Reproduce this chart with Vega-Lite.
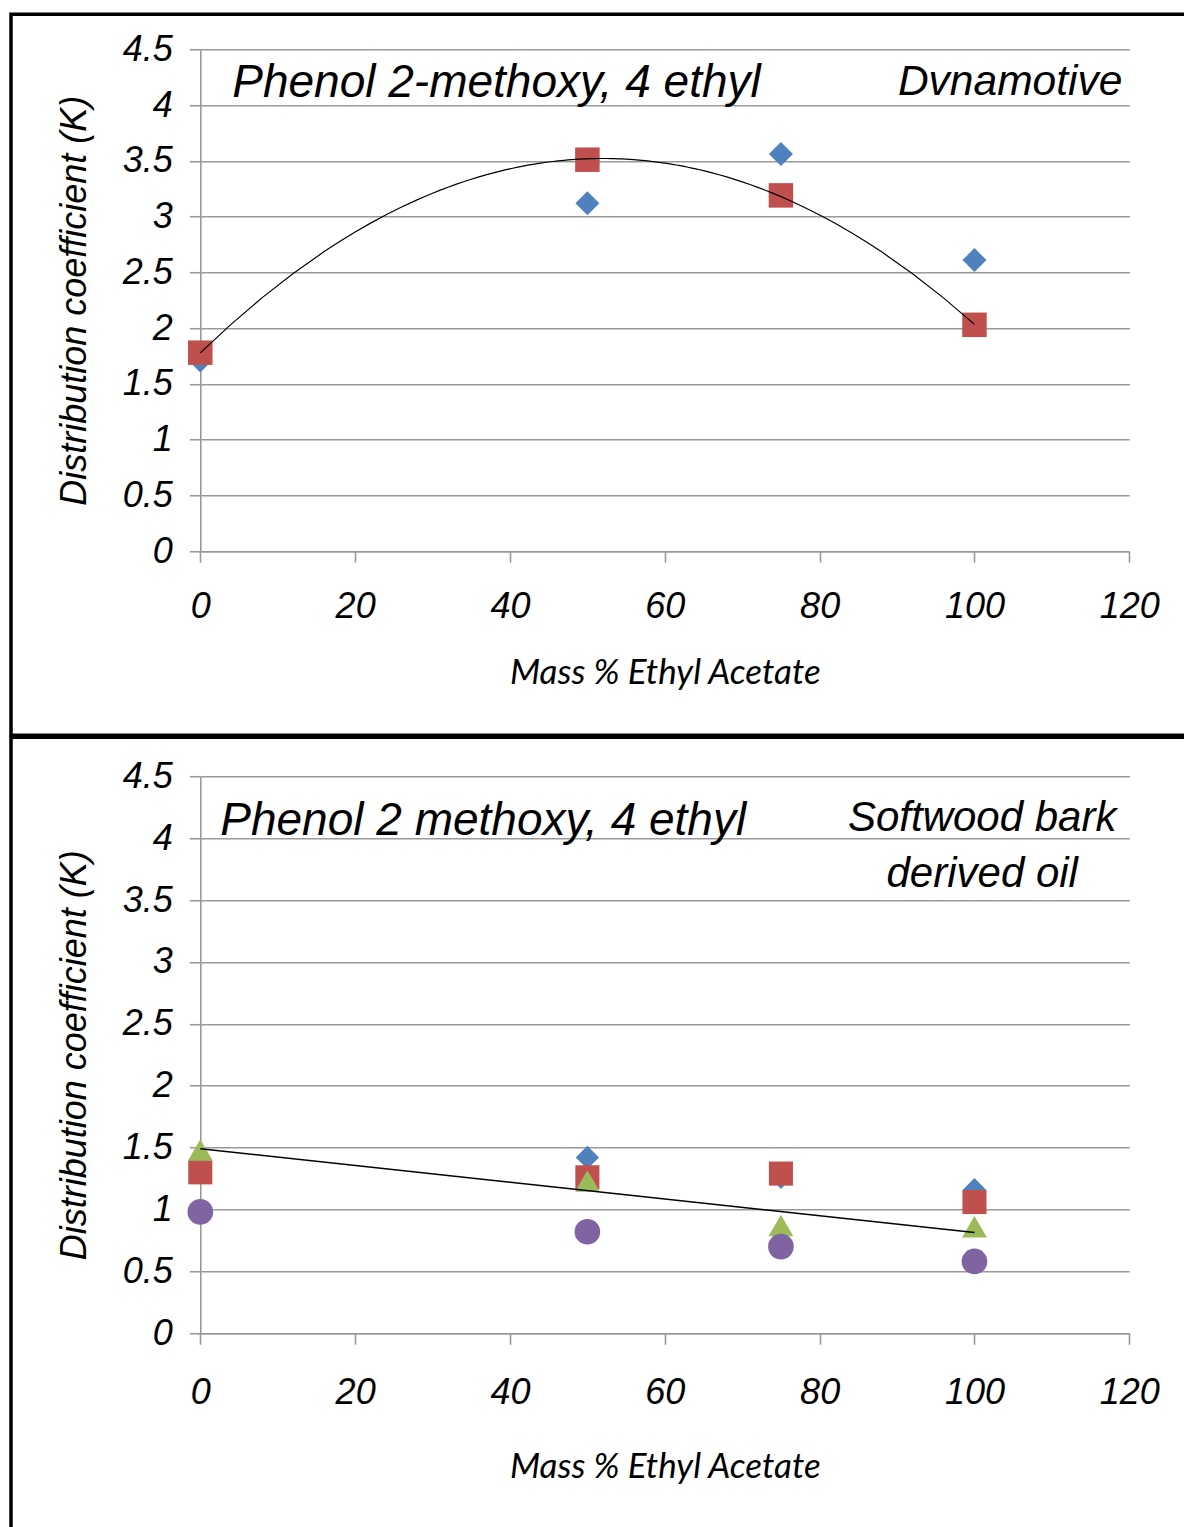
{
  "$schema": "https://vega.github.io/schema/vega-lite/v6.json",
  "background": "white",
  "padding": {"left": 9, "top": 12.25, "right": 0, "bottom": 0},
  "spacing": -3.5,
  "resolve": {"scale": {"color": "independent", "shape": "independent", "size": "independent"}},
  "config": {
    "view": {"stroke": "black", "strokeWidth": 3.5},
    "axis": {
      "labelFont": "Liberation Sans", "labelFontStyle": "italic", "labelFontSize": 36, "labelColor": "black",
      "labelFlush": false, "labelOverlap": false,
      "domainColor": "#999999", "domainWidth": 1.6, "tickColor": "#999999", "tickWidth": 1.6, "tickSize": 11,
      "gridColor": "#999999", "gridWidth": 1.6, "gridOpacity": 1,
      "titleColor": "black", "titleFontWeight": "normal", "titleFontStyle": "italic"
    }
  },
  "datasets": {
    "top": [
      {"series": "A", "x": 0, "k": 1.71},
      {"series": "A", "x": 50, "k": 3.12},
      {"series": "A", "x": 75, "k": 3.56},
      {"series": "A", "x": 100, "k": 2.61},
      {"series": "B", "x": 0, "k": 1.78},
      {"series": "B", "x": 50, "k": 3.51},
      {"series": "B", "x": 75, "k": 3.19},
      {"series": "B", "x": 100, "k": 2.03}
    ],
    "bottom": [
      {"series": "A", "x": 0, "k": 1.36},
      {"series": "A", "x": 50, "k": 1.42},
      {"series": "A", "x": 75, "k": 1.26},
      {"series": "A", "x": 100, "k": 1.16},
      {"series": "B", "x": 0, "k": 1.3},
      {"series": "B", "x": 50, "k": 1.26},
      {"series": "B", "x": 75, "k": 1.29},
      {"series": "B", "x": 100, "k": 1.06},
      {"series": "C", "x": 0, "k": 1.48},
      {"series": "C", "x": 50, "k": 1.23},
      {"series": "C", "x": 75, "k": 0.87},
      {"series": "C", "x": 100, "k": 0.86},
      {"series": "D", "x": 0, "k": 0.98},
      {"series": "D", "x": 50, "k": 0.82},
      {"series": "D", "x": 75, "k": 0.7},
      {"series": "D", "x": 100, "k": 0.58}
    ]
  },
  "vconcat": [
    {
      "width": 1180,
      "height": 721,
      "layer": [
        {
          "data": {"name": "top"},
          "mark": {"type": "point", "filled": true, "opacity": 1, "strokeWidth": 0},
          "encoding": {
            "x": {"field": "x", "type": "quantitative",
              "scale": {"domain": [0, 120], "range": [189.3, 1118.3], "nice": false, "zero": false},
              "axis": {"grid": false, "offset": -184, "values": [0, 20, 40, 60, 80, 100, 120], "labelPadding": 27,
                "title": "Mass % Ethyl Acetate", "titleFont": "Lato", "titleFontSize": 35, "titlePadding": 31}},
            "y": {"field": "k", "type": "quantitative",
              "scale": {"domain": [0, 4.5], "range": [537, 35], "nice": false, "zero": false},
              "axis": {"grid": true, "offset": -189.3, "values": [0, 0.5, 1, 1.5, 2, 2.5, 3, 3.5, 4, 4.5], "format": "~g", "labelPadding": 17,
                "title": "Distribution coefficient (K)", "titleFont": "Liberation Sans", "titleFontSize": 36, "titlePadding": 29}},
            "color": {"field": "series", "type": "nominal", "scale": {"domain": ["A", "B"], "range": ["#4F81BD", "#C0504D"]}, "legend": null},
            "shape": {"field": "series", "type": "nominal", "scale": {"domain": ["A", "B"], "range": ["diamond", "square"]}, "legend": null},
            "size": {"field": "series", "type": "ordinal", "scale": {"domain": ["A", "B"], "range": [576, 600]}, "legend": null}
          }
        },
        {
          "data": {"name": "top"},
          "transform": [
            {"filter": "datum.series == 'B'"},
            {"regression": "k", "on": "x", "method": "poly", "order": 2, "extent": [0, 100]}
          ],
          "mark": {"type": "line", "color": "black", "strokeWidth": 1.2},
          "encoding": {
            "x": {"field": "x", "type": "quantitative"},
            "y": {"field": "k", "type": "quantitative"}
          }
        },
        {
          "data": {"values": [{"label": "Phenol 2-methoxy, 4 ethyl", "x": 4.13, "k": 4.07}]},
          "mark": {"type": "text", "font": "Liberation Sans", "fontStyle": "italic", "fontSize": 46, "align": "left", "baseline": "alphabetic", "color": "black"},
          "encoding": {
            "x": {"field": "x", "type": "quantitative"},
            "y": {"field": "k", "type": "quantitative"},
            "text": {"field": "label"}
          }
        },
        {
          "data": {"values": [{"label": "Dvnamotive", "x": 119.1, "k": 4.087}]},
          "mark": {"type": "text", "font": "Liberation Sans", "fontStyle": "italic", "fontSize": 42.5, "align": "right", "baseline": "alphabetic", "color": "black"},
          "encoding": {
            "x": {"field": "x", "type": "quantitative"},
            "y": {"field": "k", "type": "quantitative"},
            "text": {"field": "label"}
          }
        }
      ]
    },
    {
      "width": 1180,
      "height": 800,
      "layer": [
        {
          "data": {"name": "bottom"},
          "mark": {"type": "point", "filled": true, "opacity": 1, "strokeWidth": 0},
          "encoding": {
            "x": {"field": "x", "type": "quantitative",
              "scale": {"domain": [0, 120], "range": [189.3, 1118.3], "nice": false, "zero": false},
              "axis": {"grid": false, "offset": -204, "values": [0, 20, 40, 60, 80, 100, 120], "labelPadding": 31,
                "title": "Mass % Ethyl Acetate", "titleFont": "Lato", "titleFontSize": 35, "titlePadding": 39}},
            "y": {"field": "k", "type": "quantitative",
              "scale": {"domain": [0, 4.5], "range": [596, 39], "nice": false, "zero": false},
              "axis": {"grid": true, "offset": -189.3, "values": [0, 0.5, 1, 1.5, 2, 2.5, 3, 3.5, 4, 4.5], "format": "~g", "labelPadding": 17,
                "title": "Distribution coefficient (K)", "titleFont": "Liberation Sans", "titleFontSize": 36, "titlePadding": 29}},
            "color": {"field": "series", "type": "nominal", "scale": {"domain": ["A", "B", "C", "D"], "range": ["#4F81BD", "#C0504D", "#9BBB59", "#8064A2"]}, "legend": null},
            "shape": {"field": "series", "type": "nominal", "scale": {"domain": ["A", "B", "C", "D"], "range": ["diamond", "square", "triangle-up", "circle"]}, "legend": null},
            "size": {"field": "series", "type": "ordinal", "scale": {"domain": ["A", "B", "C", "D"], "range": [540, 660, 760, 860]}, "legend": null}
          }
        },
        {
          "data": {"name": "bottom"},
          "transform": [
            {"filter": "datum.series == 'C'"},
            {"regression": "k", "on": "x", "method": "linear", "extent": [0, 100]}
          ],
          "mark": {"type": "line", "color": "black", "strokeWidth": 1.5},
          "encoding": {
            "x": {"field": "x", "type": "quantitative"},
            "y": {"field": "k", "type": "quantitative"}
          }
        },
        {
          "data": {"values": [{"label": "Phenol 2 methoxy, 4 ethyl", "x": 2.58, "k": 4.023}]},
          "mark": {"type": "text", "font": "Liberation Sans", "fontStyle": "italic", "fontSize": 46, "align": "left", "baseline": "alphabetic", "color": "black"},
          "encoding": {
            "x": {"field": "x", "type": "quantitative"},
            "y": {"field": "k", "type": "quantitative"},
            "text": {"field": "label"}
          }
        },
        {
          "data": {"values": [{"label": "Softwood bark", "x": 101, "k": 4.056}, {"label": "derived oil", "x": 101, "k": 3.603}]},
          "mark": {"type": "text", "font": "Liberation Sans", "fontStyle": "italic", "fontSize": 42, "align": "center", "baseline": "alphabetic", "color": "black"},
          "encoding": {
            "x": {"field": "x", "type": "quantitative"},
            "y": {"field": "k", "type": "quantitative"},
            "text": {"field": "label"}
          }
        }
      ]
    }
  ]
}
